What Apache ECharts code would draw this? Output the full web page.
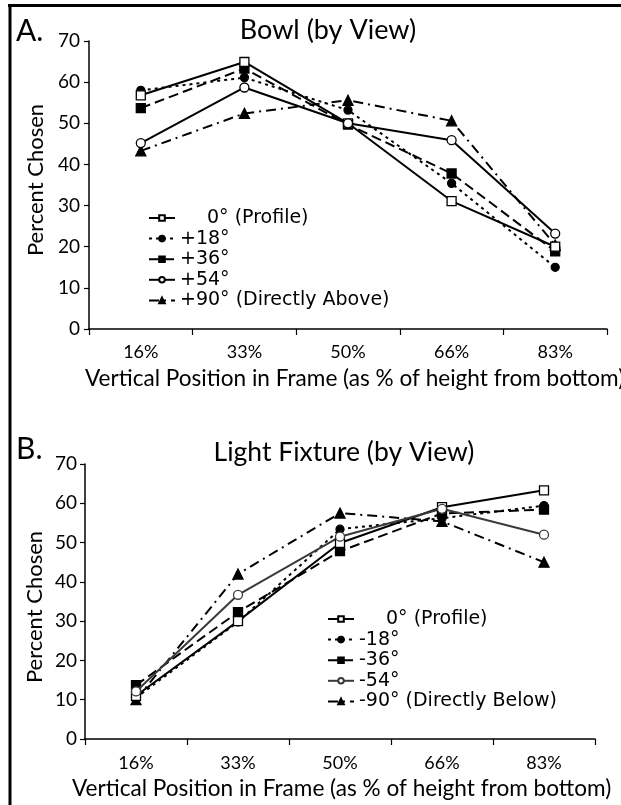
<!DOCTYPE html>
<html>
<head>
<meta charset="utf-8">
<script src="https://cdn.jsdelivr.net/npm/echarts@6/dist/echarts.min.js"></script>
<style>
  html, body { margin: 0; padding: 0; background: #fff; }
  #chart { width: 621px; height: 805px; }
</style>
</head>
<body>
<div id="chart"></div>
<script>
// Vertical position categories shared by both panels
const categories = ['16%', '33%', '50%', '66%', '83%'];
const yMin = 0, yMax = 70, yStep = 10;

// Panel A: Bowl, viewed from above
const bowlNames = ['0° (Profile)', '+18°', '+36°', '+54°', '+90° (Directly Above)'];
const bowl0 = [56.8, 64.9, 50.0, 31.1, 20.0];
const bowl18 = [58.0, 61.1, 53.2, 35.4, 15.0];
const bowl36 = [53.7, 63.3, 49.7, 37.8, 18.9];
const bowl54 = [45.2, 58.7, 50.0, 45.9, 23.2];
const bowl90 = [43.3, 52.4, 55.6, 50.6, 20.4];

// Panel B: Light fixture, viewed from below
const lightNames = ['0° (Profile)', '-18°', '-36°', '-54°', '-90° (Directly Below)'];
const light0 = [11.0, 30.0, 49.9, 59.0, 63.3];
const light18 = [10.5, 29.8, 53.4, 56.2, 59.4];
const light36 = [13.7, 32.3, 47.8, 57.4, 58.4];
const light54 = [12.1, 36.7, 51.5, 58.6, 52.0];
const light90 = [10.0, 42.0, 57.5, 55.4, 45.0];

// Line / marker looks for the five viewing angles
const looks = [
  { symbol: 'rect', size: 9, fill: '#fff', dash: 'solid', width: 2 },
  { symbol: 'circle', size: 8, fill: '#000', dash: [3, 4], width: 2 },
  { symbol: 'rect', size: 9, fill: '#000', dash: [10, 5], width: 2 },
  { symbol: 'circle', size: 9, fill: '#fff', dash: 'solid', width: 2 },
  { symbol: 'triangle', size: 10, fill: '#000', dash: [10, 5, 2, 5], width: 2 }
];

function makeSeries(name, data, panel, k, color) {
  const s = looks[k];
  return {
    type: 'line', name: name, data: data,
    xAxisIndex: panel, yAxisIndex: panel,
    symbol: s.symbol, symbolSize: s.size, showAllSymbol: true,
    itemStyle: { color: s.fill, borderColor: color, borderWidth: 1.3 },
    lineStyle: { color: color, width: s.width, type: s.dash },
    emphasis: { disabled: true },
    z: s.fill === '#fff' ? 4 : 3,
    animation: false
  };
}

const sans = 'Lato';
const axisText = { color: '#000', fontFamily: sans };

function xAxis(grid, fontSize, margin) {
  return {
    type: 'category', gridIndex: grid, data: categories, boundaryGap: true,
    axisLine: { lineStyle: { color: '#000', width: 1.5 } },
    axisTick: { show: true, inside: false, length: 6, interval: 0, alignWithLabel: false, lineStyle: { color: '#000', width: 1.2 } },
    axisLabel: Object.assign({ fontSize: fontSize, margin: margin, interval: 0 }, axisText),
    splitLine: { show: false }
  };
}
function yAxis(grid, fontSize, margin) {
  return {
    type: 'value', gridIndex: grid, min: yMin, max: yMax, interval: yStep,
    axisLine: { show: true, lineStyle: { color: '#000', width: 1.5 } },
    axisTick: { show: true, inside: false, length: 5, lineStyle: { color: '#000', width: 1.2 } },
    axisLabel: Object.assign({ fontSize: fontSize, margin: margin }, axisText),
    splitLine: { show: false }
  };
}

function legend(names, left, top) {
  return {
    orient: 'vertical', left: left, top: top,
    data: names, itemWidth: 26, itemHeight: 7, itemGap: 0.6,
    selectedMode: false,
    formatter: function (n) { return n.charAt(0) === '0' ? '{pad|}' + n : n; },
    textStyle: {
      color: '#000', fontFamily: 'DejaVu Sans', fontSize: 19, lineHeight: 20,
      rich: { pad: { width: 27 } }
    }
  };
}

function label(text, x, y, size, opts) {
  return {
    type: 'text', x: x, y: y, rotation: (opts && opts.rot) || 0,
    style: {
      text: text, fill: '#000', fontFamily: sans, fontSize: size,
      textAlign: (opts && opts.align) || 'left', textVerticalAlign: 'middle'
    },
    silent: true
  };
}

const chart = echarts.init(document.getElementById('chart'), null, { renderer: 'canvas' });

const option = {
  backgroundColor: '#fff',
  animation: false,
  grid: [
    { left: 89, right: 14, top: 41, height: 288 },
    { left: 85, right: 26, top: 464, height: 275 }
  ],
  xAxis: [xAxis(0, 18, 14), xAxis(1, 18, 15)],
  yAxis: [yAxis(0, 19, 9), yAxis(1, 19, 8)],
  legend: [legend(bowlNames, 143, 203), legend(lightNames, 322, 604)],
  series: [
    makeSeries(bowlNames[0], bowl0, 0, 0, '#000'),
    makeSeries(bowlNames[1], bowl18, 0, 1, '#000'),
    makeSeries(bowlNames[2], bowl36, 0, 2, '#000'),
    makeSeries(bowlNames[3], bowl54, 0, 3, '#000'),
    makeSeries(bowlNames[4], bowl90, 0, 4, '#000'),
    makeSeries(lightNames[0], light0, 1, 0, '#000'),
    makeSeries(lightNames[1], light18, 1, 1, '#000'),
    makeSeries(lightNames[2], light36, 1, 2, '#000'),
    makeSeries(lightNames[3], light54, 1, 3, '#3a3a3a'),
    makeSeries(lightNames[4], light90, 1, 4, '#000')
  ],
  graphic: [
    // frame edges
    { type: 'line', shape: { x1: 8, y1: 5.5, x2: 621, y2: 5.5 }, style: { stroke: '#000', lineWidth: 3 }, silent: true },
    { type: 'line', shape: { x1: 10, y1: 4, x2: 10, y2: 805 }, style: { stroke: '#000', lineWidth: 3 }, silent: true },
    // panel A texts
    label('A.', 16, 31, 30),
    label('Bowl (by View)', 328, 30, 27, { align: 'center' }),
    label('Percent Chosen', 36, 180, 22, { align: 'center', rot: Math.PI / 2 }),
    label('Vertical Position in Frame (as % of height from bottom)', 85, 379, 22.6),
    // panel B texts
    label('B.', 16, 449, 30),
    label('Light Fixture (by View)', 344, 452, 26.5, { align: 'center' }),
    label('Percent Chosen', 35, 607, 22, { align: 'center', rot: Math.PI / 2 }),
    label('Vertical Position in Frame (as % of height from bottom)', 72, 789, 22.6)
  ]
};

chart.setOption(option);
</script>
</body>
</html>
